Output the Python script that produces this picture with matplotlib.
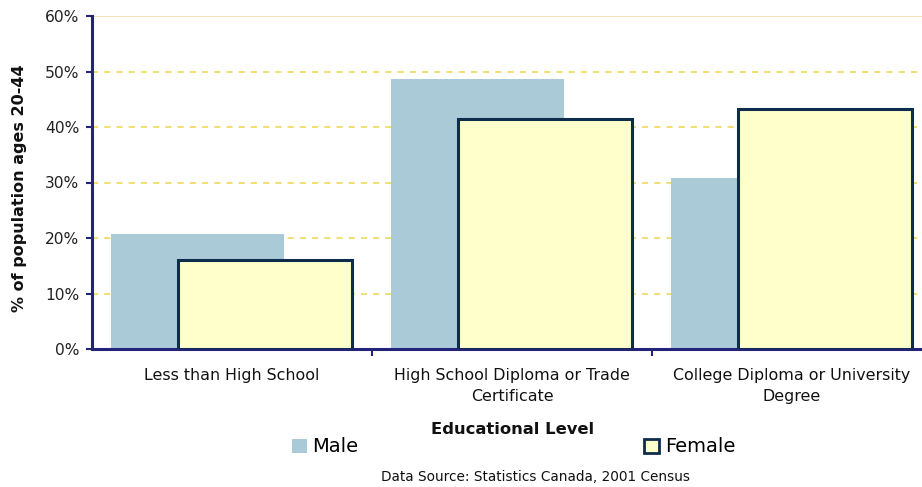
import matplotlib
matplotlib.use("Agg")
import matplotlib.pyplot as plt
from matplotlib.patches import Patch
from matplotlib.ticker import FuncFormatter, MultipleLocator

categories = ["Less than High School",
              "High School Diploma or Trade\nCertificate",
              "College Diploma or University\nDegree"]
male = [20.8, 48.6, 30.9]
female = [16.0, 41.4, 43.2]

male_color = "#AACAD8"
female_color = "#FFFFCC"
female_edge = "#0E2D4C"
axis_color = "#23237A"

plt.rcParams["font.family"] = ["DejaVu Sans"]

fig = plt.figure(figsize=(9.22, 4.87), dpi=100)
ax = fig.add_axes([92 / 922, 1 - 349 / 487, 840 / 922, 333 / 487])

x = list(range(len(categories)))
w = 0.62
ax.bar([i - 0.123 for i in x], male, width=w, color=male_color, zorder=2)
ax.bar([i + 0.117 for i in x], female, width=w, color=female_color,
       edgecolor=female_edge, linewidth=2.2, zorder=3)

ax.set_xlim(-0.5, 2.5)
ax.set_ylim(0, 60)
ax.yaxis.set_major_locator(MultipleLocator(10))
ax.yaxis.set_major_formatter(FuncFormatter(lambda v, p: f"{v:.0f}%"))

for v in range(10, 60, 10):
    ax.axhline(v, color="#EDD44A", linestyle=(0, (4, 4)), linewidth=1.1, zorder=1)
ax.axhline(60, color="#F3DDB5", linewidth=1.3, zorder=1)

# category labels, with ticks at group boundaries
ax.set_xticks([0.5, 1.5])
ax.set_xticklabels([])
ax.tick_params(axis="x", direction="out", length=5, width=1.5, color=axis_color)
for i, lab in enumerate(categories):
    ax.text(i, -3.5, lab, ha="center", va="top", fontsize=11.4,
            color="#111111", linespacing=1.5)

ax.tick_params(axis="y", direction="out", length=4, width=1.5, color=axis_color,
               labelsize=11.2, labelcolor="#222222", pad=5)

for side in ("top", "right"):
    ax.spines[side].set_visible(False)
ax.spines["left"].set_color(axis_color)
ax.spines["left"].set_linewidth(2.2)
ax.spines["bottom"].set_color(axis_color)
ax.spines["bottom"].set_linewidth(2.2)
ax.set_axisbelow(False)

fig.text(20 / 922, 1 - 188 / 487, "% of population ages 20-44", rotation=90,
         ha="center", va="center", fontsize=11.5, fontweight="bold", color="#111111")
fig.text(513 / 922, 1 - 430 / 487, "Educational Level", ha="center", va="center",
         fontsize=11.8, fontweight="bold", color="#111111")

handles = [Patch(facecolor=male_color, edgecolor=male_color, linewidth=0),
           Patch(facecolor=female_color, edgecolor=female_edge, linewidth=2)]
fig.legend(handles, ["Male", "Female"], ncol=2, frameon=False,
           loc="center left", bbox_to_anchor=(292 / 922, 1 - 447 / 487),
           fontsize=14, handlelength=0.75, handleheight=0.75,
           handletextpad=0.3, columnspacing=14.7, borderpad=0, borderaxespad=0)

fig.text(535 / 922, 1 - 477 / 487, "Data Source: Statistics Canada, 2001 Census",
         ha="center", va="center", fontsize=9.8, color="#111111")

fig.savefig("out.png", dpi=100, facecolor="white")
